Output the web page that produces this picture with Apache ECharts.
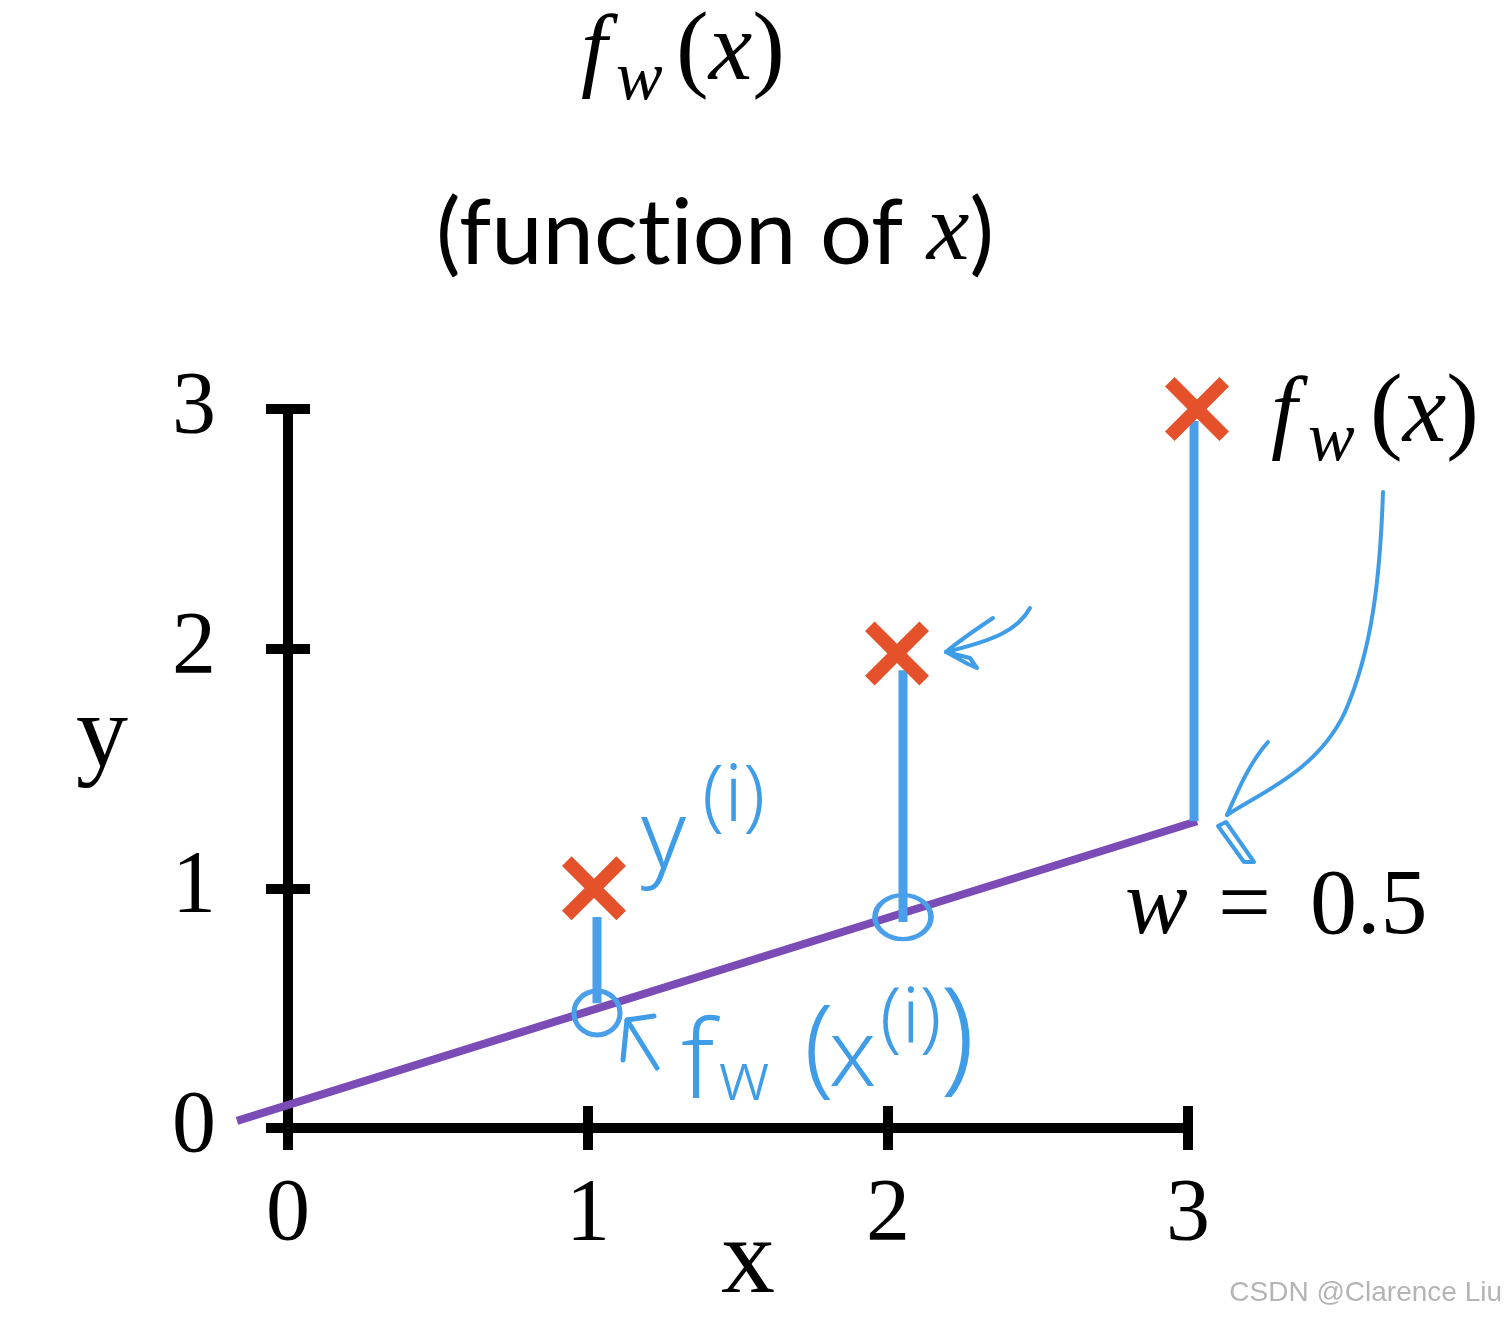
<!DOCTYPE html>
<html><head><meta charset="utf-8">
<script src="https://cdn.jsdelivr.net/npm/echarts@6/dist/echarts.min.js"></script>
<style>html,body{margin:0;padding:0;background:#fff}#c{width:1506px;height:1318px}</style>
</head><body><div id="c"></div>
<script>
// ---- data ----
const xTickValues = [0, 1, 2, 3];
const yTickValues = [0, 1, 2, 3];
const pointX = [1.02, 2.03, 3.03];      // training examples (orange crosses)
const pointY = [1.0, 1.98, 3.0];
const fitLineX = [-0.17, 3.03];          // f_w(x) line (purple)
const fitLineY = [0.03, 1.28];
const residX = [1.03, 2.05, 3.02];       // blue error segments
const residTop = [0.88, 1.91, 2.95];
const residBottom = [0.52, 0.86, 1.28];
const predX = [1.03, 2.05];              // circled predictions
const predY = [0.48, 0.88];

const BLUE = '#4a9fea', HAND = '#3f9de8', ORANGE = '#e5512a', PURPLE = '#7b4bb6';
const SERIF = 'Liberation Serif';

const chart = echarts.init(document.getElementById('c'), null, {renderer: 'canvas'});

const axisLineStyle = {color: '#000', width: 10};
const tickStyle = {color: '#000', width: 10};

function T(text, left, baseline, size, o) {
  o = o || {};
  return {
    type: 'text', x: left, y: baseline - 0.305 * size, z: 100,
    style: Object.assign({
      text: text, fontSize: size, fontFamily: o.family || SERIF,
      fontStyle: o.italic ? 'italic' : 'normal', fontWeight: o.weight || 'normal',
      fill: o.color || '#000', align: o.align || 'left', verticalAlign: 'middle'
    }, o.rich ? {rich: o.rich} : {})
  };
}
const strokeStyle = (w) => ({stroke: HAND, lineWidth: w || 4, fill: null, lineCap: 'round', lineJoin: 'round'});
function B(p) { // cubic bezier x1,y1,cx1,cy1,cx2,cy2,x2,y2
  return {type: 'bezierCurve', z: 100,
    shape: {x1: p[0], y1: p[1], cpx1: p[2], cpy1: p[3], cpx2: p[4], cpy2: p[5], x2: p[6], y2: p[7]},
    style: strokeStyle(4)};
}
function PL(pts, w, closed) {
  return {type: closed ? 'polygon' : 'polyline', z: 100, shape: {points: pts}, style: strokeStyle(w)};
}
const italicX = (size) => ({i: {fontSize: size, fontFamily: SERIF, fontStyle: 'italic', fill: '#000'}});

// segments: [x1, y1, x2, y2, kind] in data units
const segData = [[fitLineX[0], fitLineY[0], fitLineX[1], fitLineY[1], 0]]
  .concat(residX.map((x, i) => [x, residTop[i], x, residBottom[i], 1]));

function renderSeg(params, api) {
  const p1 = api.coord([api.value(0), api.value(1)]);
  const p2 = api.coord([api.value(2), api.value(3)]);
  const kind = api.value(4);
  return {
    type: 'line', z2: kind === 0 ? 1 : 2,
    shape: {x1: p1[0], y1: p1[1], x2: p2[0], y2: p2[1]},
    style: {stroke: kind === 0 ? PURPLE : BLUE, lineWidth: kind === 0 ? 8 : 9, lineCap: 'butt'}
  };
}

const crossPath = 'path://M0,3 L3,0 L10,7 L17,0 L20,3 L13,10 L20,17 L17,20 L10,13 L3,20 L0,17 L7,10 Z';

const hand = {family: 'Noto Sans', color: HAND, weight: 300};

const option = {
  animation: false,
  backgroundColor: '#fff',
  grid: {left: 288, right: 318, top: 409, bottom: 190, containLabel: false, outerBoundsMode: 'none'},
  xAxis: [{
    type: 'value', min: 0, max: 3, interval: 1, position: 'bottom',
    axisLine: {show: true, onZero: false, lineStyle: axisLineStyle},
    axisTick: {show: true, inside: false, length: 22, lineStyle: tickStyle},
    splitLine: {show: false},
    axisLabel: {margin: 44, fontSize: 88, fontFamily: SERIF, color: '#000',
      formatter: (v) => xTickValues.indexOf(v) >= 0 ? String(v) : ''},
    name: 'x', nameLocation: 'middle', nameGap: 82, nameMoveOverlap: false,
    nameTextStyle: {fontSize: 108, fontFamily: SERIF, color: '#000', padding: [0, 0, 0, 20]}
  }, {
    type: 'value', min: 0, max: 3, interval: 1, position: 'bottom',
    axisLine: {show: false, onZero: false},
    axisTick: {show: true, inside: true, length: 22, lineStyle: tickStyle},
    splitLine: {show: false}, axisLabel: {show: false}
  }],
  yAxis: [{
    type: 'value', min: 0, max: 3, interval: 1, position: 'left',
    axisLine: {show: true, onZero: false, lineStyle: axisLineStyle},
    axisTick: {show: true, inside: false, length: 22, lineStyle: tickStyle},
    splitLine: {show: false},
    axisLabel: {margin: 72, fontSize: 88, fontFamily: SERIF, color: '#000',
      formatter: (v) => yTickValues.indexOf(v) >= 0 ? String(v) : ''},
    name: 'y', nameLocation: 'middle', nameGap: 160, nameRotate: 0, nameMoveOverlap: false,
    nameTextStyle: {fontSize: 104, fontFamily: SERIF, color: '#000', verticalAlign: 'bottom', lineHeight: 60}
  }, {
    type: 'value', min: 0, max: 3, interval: 1, position: 'left',
    axisLine: {show: false, onZero: false},
    axisTick: {show: true, inside: true, length: 22, lineStyle: tickStyle},
    splitLine: {show: false}, axisLabel: {show: false}
  }],
  series: [{
    type: 'custom', xAxisIndex: 0, yAxisIndex: 0, z: 2, clip: false,
    data: segData, renderItem: renderSeg
  }, {
    type: 'scatter', xAxisIndex: 0, yAxisIndex: 0, z: 4, clip: false,
    data: predX.map((x, i) => ({value: [x, predY[i]], symbolSize: i === 0 ? [46, 44] : [56, 44]})),
    symbol: 'circle',
    itemStyle: {color: 'rgba(0,0,0,0)', borderColor: BLUE, borderWidth: 5, opacity: 1}
  }, {
    type: 'scatter', xAxisIndex: 0, yAxisIndex: 0, z: 5, clip: false,
    data: pointX.map((x, i) => [x, pointY[i]]),
    symbol: crossPath, symbolSize: 64, symbolKeepAspect: true,
    itemStyle: {color: ORANGE, opacity: 1}
  }],
  graphic: [
    // title f_w(x)
    T('f', 581, 83, 94, {italic: true}),
    T('w', 616, 102, 70, {italic: true}),
    T('({i|x})', 676, 83, 98, {rich: italicX(98)}),
    // subtitle
    T('(funct\u200Cion of {i|x})', 715, 262, 92, {family: 'Lato', align: 'center', rich: italicX(96)}),
    // right label f_w(x)
    T('f', 1271, 445, 94, {italic: true}),
    T('w', 1308, 463, 70, {italic: true}),
    T('({i|x})', 1370, 445, 98, {rich: italicX(98)}),
    // w = 0.5
    T('w', 1125, 937, 94, {italic: true}),
    T('=', 1218, 937, 94),
    T('0.5', 1310, 937, 94),
    // hand-written annotations
    T('y', 641, 870, 96, hand),
    T('(i)', 702, 823, 80, hand),
    T('f', 681, 1100, 108, hand),
    T('w', 719, 1101, 68, hand),
    T('(', 804, 1085, 108, hand),
    T('x', 829, 1088, 94, hand),
    T('(i)', 880, 1045, 78, hand),
    T(')', 940, 1080, 125, hand),
    // hand-drawn arrows
    B([1383, 492, 1380, 580, 1372, 650, 1345, 712]),
    B([1345, 712, 1318, 770, 1262, 792, 1227, 815]),
    B([1227, 815, 1238, 790, 1250, 762, 1268, 742]),
    PL([[1226, 822], [1254, 862], [1244, 862], [1218, 826]], 4, true),
    B([1030, 608, 1018, 630, 995, 640, 946, 652]),
    B([946, 652, 960, 640, 978, 628, 993, 618]),
    PL([[946, 652], [968, 664], [977, 668], [970, 658]], 4, true),
    PL([[627, 1020], [657, 1068]], 5),
    PL([[623, 1060], [627, 1020], [654, 1016]], 5),
    // watermark
    T('CSDN @Clarence Liu', 1502, 1302, 28, {family: 'Liberation Sans', color: '#b4b4b4', align: 'right'})
  ]
};
chart.setOption(option);
</script></body></html>
